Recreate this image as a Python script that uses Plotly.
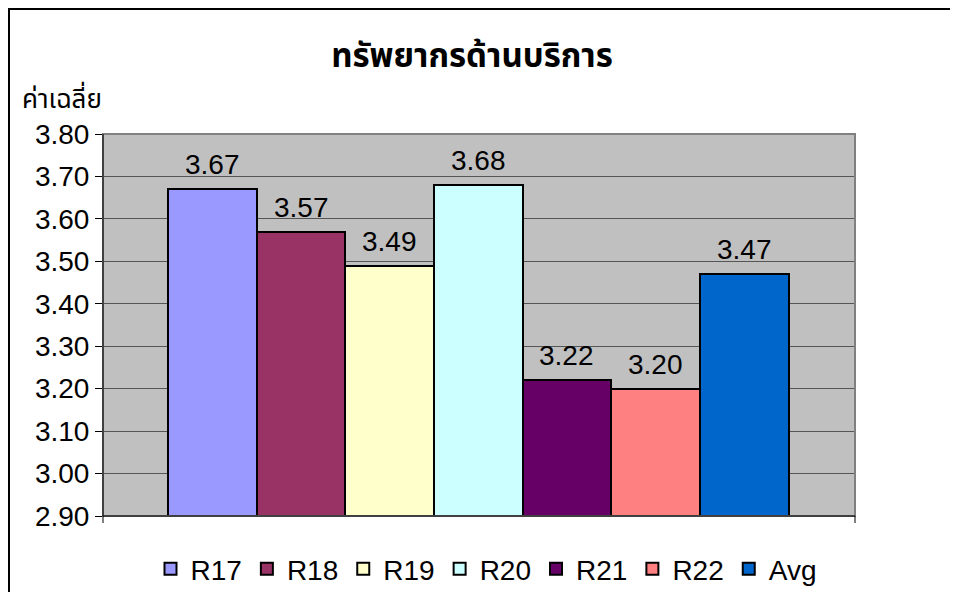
import plotly.graph_objects as go

series = ["R17", "R18", "R19", "R20", "R21", "R22", "Avg"]
values = [3.67, 3.57, 3.49, 3.68, 3.22, 3.20, 3.47]
colors = ["#9999FF", "#993366", "#FFFFCC", "#CCFFFF", "#660066", "#FF8080", "#0066CC"]
y_ticks = [2.9, 3.0, 3.1, 3.2, 3.3, 3.4, 3.5, 3.6, 3.7, 3.8]
title = "ทรัพยากรด้านบริการ"
y_title = "ค่าเฉลี่ย"

FONT = "Liberation Sans, Arial, sans-serif"
THAI = "Tahoma, 'Noto Sans Thai', 'Noto Sans', 'DejaVu Sans', sans-serif"

W, H = 950, 584
L, R, T, B = 95, 103, 126, 76
PW, PH = W - L - R, H - T - B

fig = go.Figure()
for name, v, c in zip(series, values, colors):
    fig.add_trace(go.Bar(
        x=[name], y=[v], name=name,
        marker=dict(color=c, line=dict(color="black", width=2)),
        hoverinfo="name+y",
    ))
    fig.add_annotation(
        x=name, y=v, text=f"{v:.2f}", showarrow=False,
        yanchor="bottom", yshift=7,
        font=dict(family=FONT, size=28, color="black"),
    )

fig.update_layout(
    width=W, height=H,
    margin=dict(l=L, r=R, t=T, b=B, autoexpand=False),
    paper_bgcolor="white",
    plot_bgcolor="#C0C0C0",
    bargap=0,
    showlegend=True,
    legend=dict(
        orientation="h", x=(486 - 8) / W, xref="container", xanchor="center",
        y=1 - 561 / H, yref="container", yanchor="middle",
        font=dict(family=FONT, size=28, color="black"),
        itemclick=False, itemdoubleclick=False,
        bgcolor="rgba(0,0,0,0)",
    ),
    title=dict(
        text=f"<b>{title}</b>", x=(472 - 8) / W, xanchor="center",
        y=1 - 47 / H, yanchor="middle", yref="container",
        font=dict(family=THAI, size=33, color="black"),
    ),
)

fig.update_xaxes(
    type="category",
    range=[-1.234, 7.25],
    showticklabels=False,
    showgrid=False,
    showline=True, linecolor="black", linewidth=1,
    ticks="",
    fixedrange=True,
)
fig.update_yaxes(
    range=[2.9, 3.8],
    tickvals=y_ticks,
    tickformat=".2f",
    ticks="outside", ticklen=7, tickcolor="black", tickwidth=1,
    showgrid=True, gridcolor="#555555", gridwidth=1,
    showline=True, linecolor="black", linewidth=1,
    zeroline=False,
    tickfont=dict(family=FONT, size=28, color="black"),
    fixedrange=True,
)

# plot area border (top/right grey) and x-axis end ticks
fig.add_shape(type="rect", xref="paper", yref="paper", x0=0, x1=1, y0=0, y1=1,
              line=dict(color="#808080", width=2), layer="above")
fig.add_shape(type="line", xref="paper", yref="paper", x0=0, x1=0, y0=0, y1=1,
              line=dict(color="black", width=1), layer="above")
fig.add_shape(type="line", xref="paper", yref="paper", x0=0, x1=1, y0=0, y1=0,
              line=dict(color="black", width=1), layer="above")
for xp in (0, 1):
    fig.add_shape(type="line", xref="paper", yref="paper", x0=xp, x1=xp, y0=0, y1=-7 / PH,
                  line=dict(color="black", width=1))

# outer chart border (top-left corner at the figure origin)
fig.add_shape(type="rect", xref="paper", yref="paper",
              x0=(1 - L) / PW, x1=1.3, y0=-0.5, y1=1 + (T - 1) / PH,
              line=dict(color="black", width=2), layer="below")

fig.add_annotation(
    xref="paper", yref="paper", x=(12 - L) / PW, y=1 + (T - 92) / PH,
    xanchor="left", yanchor="middle", showarrow=False, text=y_title,
    font=dict(family=THAI, size=26, color="black"),
)

fig.write_html("out.html")
